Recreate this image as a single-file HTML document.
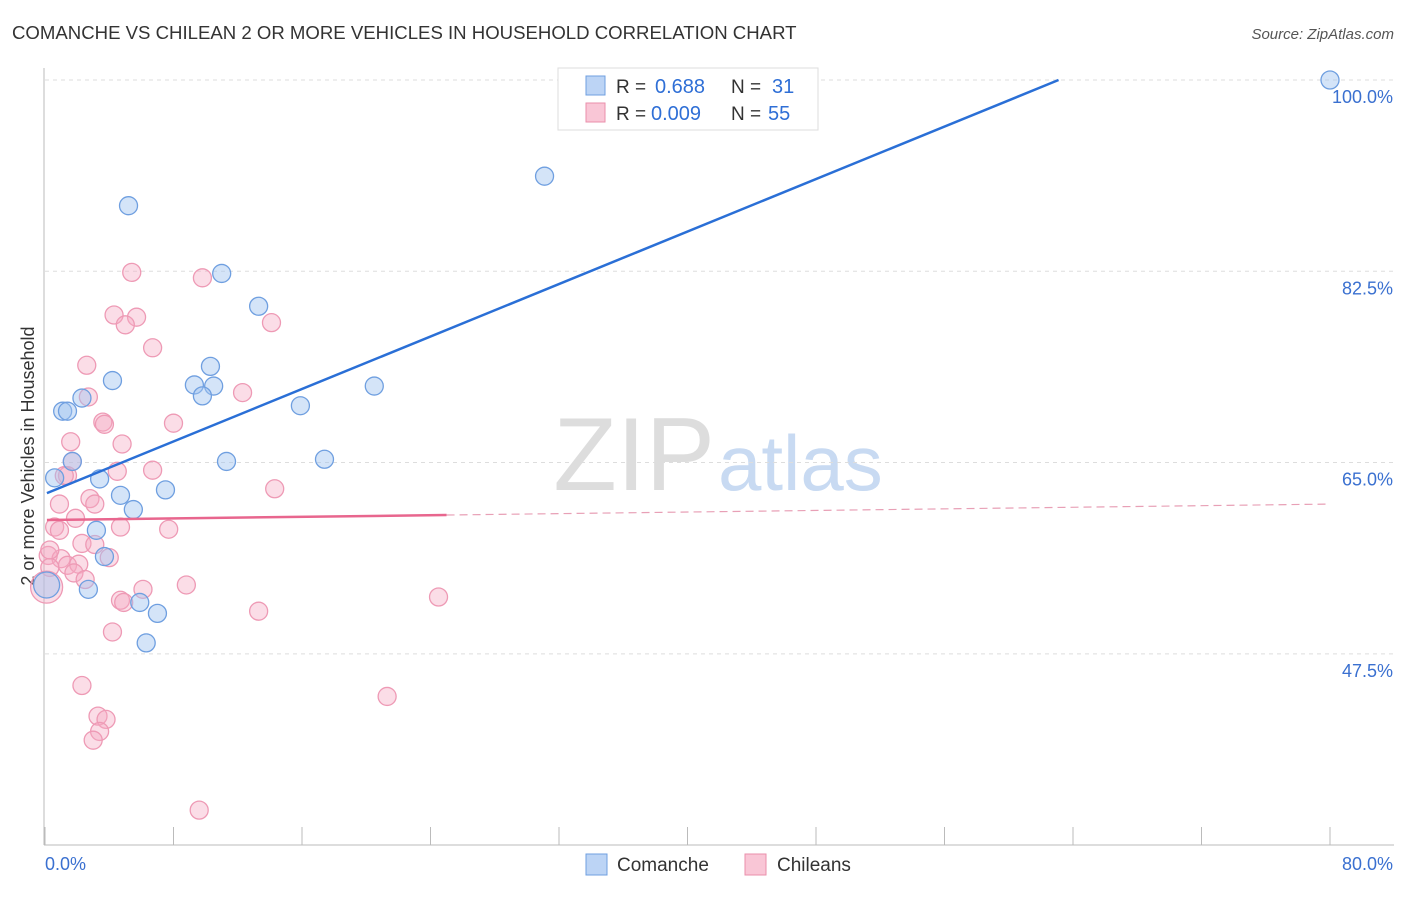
<!DOCTYPE html>
<html><head><meta charset="utf-8"><style>
body{margin:0;background:#fff;font-family:"Liberation Sans",sans-serif}
svg text{font-family:"Liberation Sans",sans-serif}
</style></head><body>
<svg id="c" width="1406" height="892">
<text x="12" y="39" font-size="18.6" fill="#333">COMANCHE VS CHILEAN 2 OR MORE VEHICLES IN HOUSEHOLD CORRELATION CHART</text>
<text x="1394" y="39" font-size="15" fill="#555" font-style="italic" text-anchor="end">Source: ZipAtlas.com</text>
<text x="715" y="490" font-size="104" fill="#ddd" text-anchor="end" font-family="Liberation Serif">ZIP</text>
<text x="718" y="490" font-size="78" fill="#c8daf2">atlas</text>
<text transform="translate(34,456) rotate(-90)" font-size="18" fill="#333" text-anchor="middle">2 or more Vehicles in Household</text>
<g id="grid"></g><g id="pts"></g><g id="lines"></g>
<g>
<rect x="558" y="68" width="260" height="62" fill="#fff" stroke="#ddd"/>
<rect x="586" y="76" width="19" height="19" fill="#bcd4f5" stroke="#6f9fe0"/>
<rect x="586" y="103" width="19" height="19" fill="#f9c6d6" stroke="#ea8fab"/>
<text x="616" y="93" font-size="19" fill="#333">R =</text>
<text x="655" y="93" font-size="20" fill="#2f6fd6">0.688</text>
<text x="731" y="93" font-size="19" fill="#333">N =</text>
<text x="772" y="93" font-size="20" fill="#2f6fd6">31</text>
<text x="616" y="120" font-size="19" fill="#333">R =</text>
<text x="651" y="120" font-size="20" fill="#2f6fd6">0.009</text>
<text x="731" y="120" font-size="19" fill="#333">N =</text>
<text x="768" y="120" font-size="20" fill="#2f6fd6">55</text>
</g>
<g>
<rect x="586" y="854" width="21" height="21" fill="#bcd4f5" stroke="#6f9fe0"/>
<text x="617" y="871" font-size="19" fill="#333">Comanche</text>
<rect x="745" y="854" width="21" height="21" fill="#f9c6d6" stroke="#ea8fab"/>
<text x="777" y="871" font-size="19" fill="#333">Chileans</text>
</g>
</svg>
<script>
const yTicks=[47.5,65.0,82.5,100.0];
const yTickLabels=["47.5%","65.0%","82.5%","100.0%"];
const xTickLabels=["0.0%","80.0%"];
const blueX=[33.3,80,31.1,5.2,11.0,13.3,10.3,4.2,9.3,10.5,9.8,15.9,20.5,1.1,1.4,2.3,1.7,11.3,17.4,0.6,3.4,4.7,7.5,5.5,3.2,3.7,2.7,5.9,7.0,6.3,0.1];
const blueY=[100,100,91.2,88.5,82.3,79.3,73.8,72.5,72.1,72.0,71.1,70.2,72.0,69.7,69.7,70.9,65.1,65.1,65.3,63.6,63.5,62.0,62.5,60.7,58.8,56.4,53.4,52.2,51.2,48.5,53.8];
const pinkX=[5.4,9.8,4.3,5.7,5.0,14.1,6.7,2.6,2.7,12.3,3.6,3.7,8.0,1.6,4.8,1.7,4.5,6.7,1.4,2.8,3.1,0.9,1.9,0.6,0.9,7.7,2.3,3.1,4.0,0.2,1.0,0.3,1.4,2.1,1.8,2.5,6.1,8.8,4.7,4.9,13.3,24.5,4.2,2.3,21.3,3.3,3.8,3.4,3.0,9.6,14.3,0.1,0.3,1.2,4.7];
const pinkY=[82.4,81.9,78.5,78.3,77.6,77.8,75.5,73.9,71.0,71.4,68.7,68.5,68.6,66.9,66.7,65.1,64.2,64.3,63.8,61.7,61.2,61.2,59.9,59.1,58.8,58.9,57.6,57.5,56.3,56.5,56.2,55.4,55.6,55.7,54.9,54.3,53.4,53.8,52.4,52.2,51.4,52.7,49.5,44.6,43.6,41.8,41.5,40.4,39.6,33.2,62.6,53.6,57.0,63.8,59.1];
const blueLine=[[0.12,62.2],[63.1,100]];
const pinkLine=[[0.12,59.74],[25,60.2],[80,61.2]];
const X=v=>45+v/80*1285, Y=v=>80+(100-v)*10.93;
const ns="http://www.w3.org/2000/svg";
function mk(p,t,a){const e=document.createElementNS(ns,t);for(const k in a)e.setAttribute(k,a[k]);p.appendChild(e);return e;}
const g=document.getElementById('grid');
yTicks.forEach((t,i)=>{
 const l=mk(g,'line',{x1:45,x2:1394,y1:Y(t),y2:Y(t),stroke:'#ddd','stroke-dasharray':'4,4'});
 
 
 const tx=mk(g,'text',{x:1393,y:Y(t)+23,'font-size':18,fill:'#3a70d0','text-anchor':'end'});
 tx.textContent=yTickLabels[i];
 
 
});
const ax=mk(g,'line',{x1:44,x2:44,y1:68,y2:845,stroke:'#bbb'});


const bx=mk(g,'line',{x1:44,x2:1394,y1:845,y2:845,stroke:'#bbb'});


for(let i=0;i<=10;i++){const t=mk(g,'line',{x1:X(i*8),x2:X(i*8),y1:827,y2:845,stroke:'#bbb'});
 
 }
[[0,'start',45],[1,'end',1393]].forEach(([i,a,x])=>{const t=mk(g,'text',{x:x,y:870,'font-size':18,fill:'#3a70d0','text-anchor':a});t.textContent=xTickLabels[i];
 
 });
const P=document.getElementById('pts');
pinkX.forEach((x,i)=>{const r=i==51?16:9;const c=mk(P,'circle',{cx:X(x),cy:Y(pinkY[i]),r:r,fill:'rgba(246,170,195,0.4)',stroke:'#ee9ab5','stroke-width':1.3});
 
 });
blueX.forEach((x,i)=>{const r=i==30?13:9;const c=mk(P,'circle',{cx:X(x),cy:Y(blueY[i]),r:r,fill:'rgba(160,195,240,0.45)',stroke:'#6f9fe0','stroke-width':1.3});
 
 });
const L=document.getElementById('lines');
const b=mk(L,'line',{x1:X(blueLine[0][0]),y1:Y(blueLine[0][1]),x2:X(blueLine[1][0]),y2:Y(blueLine[1][1]),stroke:'#2a6fd6','stroke-width':2.5});


const p1=mk(L,'line',{x1:X(pinkLine[0][0]),y1:Y(pinkLine[0][1]),x2:X(pinkLine[1][0]),y2:Y(pinkLine[1][1]),stroke:'#e8668e','stroke-width':2.5});


const p2=mk(L,'line',{x1:X(pinkLine[1][0]),y1:Y(pinkLine[1][1]),x2:X(pinkLine[2][0]),y2:Y(pinkLine[2][1]),stroke:'#e8a0b6','stroke-width':1.2,'stroke-dasharray':'8,5'});


</script>
</body></html>
